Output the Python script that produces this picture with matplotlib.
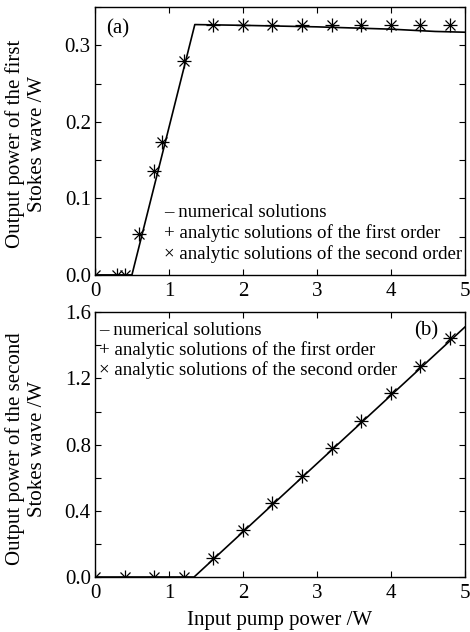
import matplotlib
matplotlib.use("Agg")
import matplotlib.pyplot as plt
from matplotlib.ticker import MultipleLocator

# (a) first Stokes wave
num_x1 = [0, 0.5, 1.35, 2.0, 3.0, 4.0, 4.6, 5.0]
num_y1 = [0, 0, 0.327, 0.326, 0.324, 0.321, 0.318, 0.317]
mark_x1 = [0, 0.3, 0.4, 0.6, 0.8, 0.9, 1.2, 1.6, 2.0, 2.4, 2.8, 3.2, 3.6, 4.0, 4.4, 4.8]
mark_y1 = [0, 0, 0, 0.054, 0.136, 0.174, 0.279, 0.326, 0.326, 0.326, 0.326,
           0.326, 0.326, 0.326, 0.326, 0.326]

# (b) second Stokes wave
num_x2 = [0, 1.34, 5.0]
num_y2 = [0, 0, 1.51]
mark_x2 = [0, 0.4, 0.8, 1.2, 1.6, 2.0, 2.4, 2.8, 3.2, 3.6, 4.0, 4.4, 4.8]
mark_y2 = [0, 0, 0, 0, 0.115, 0.284, 0.447, 0.61, 0.779, 0.942, 1.11, 1.274, 1.443]

legend_lines = ["\u2013 numerical solutions",
                "+ analytic solutions of the first order",
                "\u00d7 analytic solutions of the second order"]

plt.rcParams["font.family"] = ["Liberation Serif", "DejaVu Serif"]

fig = plt.figure(figsize=(4.7, 6.32), dpi=100)
ax1 = fig.add_axes([0.202, 0.565, 0.787, 0.424])
ax2 = fig.add_axes([0.202, 0.087, 0.787, 0.419])


def draw_panel(ax, nx, ny, mx, my):
    ax.plot(nx, ny, color="black", linewidth=1.2)
    # asterisk look: first order (+) and second order (x) on top of each other
    ax.plot(mx, my, linestyle="none", marker="+", markersize=10,
            markeredgewidth=0.9, color="black")
    ax.plot(mx, my, linestyle="none", marker="x", markersize=7,
            markeredgewidth=0.9, color="black")
    ax.set_xlim(0, 5)
    ax.xaxis.set_major_locator(MultipleLocator(1))
    ax.tick_params(which="both", direction="in", top=True, right=True,
                   labelsize=15, length=4, width=0.8)
    ax.tick_params(axis="x", pad=5)
    ax.tick_params(axis="y", pad=3)
    for s in ax.spines.values():
        s.set_linewidth(1.0)


draw_panel(ax1, num_x1, num_y1, mark_x1, mark_y1)
ax1.set_ylim(0, 0.35)
ax1.yaxis.set_major_locator(MultipleLocator(0.1))
ax1.yaxis.set_minor_locator(MultipleLocator(0.05))
ax1.yaxis.set_major_formatter(plt.FormatStrFormatter("%.1f"))
ax1.text(0.03, 0.955, "(a)", transform=ax1.transAxes, fontsize=15, va="top")
for i, t in enumerate(legend_lines):
    ax1.text(0.188, 0.232 - i * 0.077, t, transform=ax1.transAxes,
             fontsize=13.6, va="center")

draw_panel(ax2, num_x2, num_y2, mark_x2, mark_y2)
ax2.set_ylim(0, 1.6)
ax2.yaxis.set_major_locator(MultipleLocator(0.4))
ax2.yaxis.set_minor_locator(MultipleLocator(0.2))
ax2.yaxis.set_major_formatter(plt.FormatStrFormatter("%.1f"))
ax2.text(0.862, 0.965, "(b)", transform=ax2.transAxes, fontsize=15, va="top")
for i, t in enumerate(legend_lines):
    ax2.text(0.01, 0.932 - i * 0.076, t, transform=ax2.transAxes,
             fontsize=13.6, va="center")
ax2.set_xlabel("Input pump power /W", fontsize=15, labelpad=6)

fig.text(26 / 470, 1 - 144 / 632, "Output power of the first\nStokes wave /W",
         rotation=90, ha="center", va="center", fontsize=15, linespacing=1.15)
fig.text(26 / 470, 1 - 449 / 632, "Output power of the second\nStokes wave /W",
         rotation=90, ha="center", va="center", fontsize=15, linespacing=1.15)

fig.savefig("out.png", dpi=100)
